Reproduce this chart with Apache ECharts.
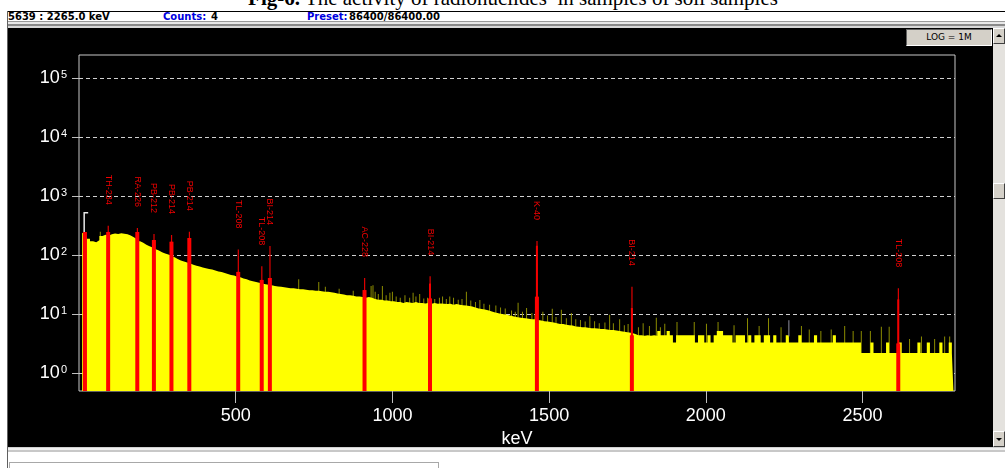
<!DOCTYPE html>
<html>
<head>
<meta charset="utf-8">
<script src="https://cdn.jsdelivr.net/npm/echarts@6/dist/echarts.min.js"></script>
<style>
  html, body { margin: 0; padding: 0; background: #fff; }
  #wrap { position: relative; width: 1005px; height: 468px; overflow: hidden; background: #fff; }
  .abs { position: absolute; }
  #title { left: 0; width: 1026px; top: -12px; text-align: center; font: 21px "Liberation Serif", serif; line-height: 21px; color: #000; white-space: nowrap; }
  #status { left: 8px; top: 11px; width: 997px; height: 10px; background: #fff; border-top: 1px solid #000; }
  .st { position: absolute; top: 0px; font: bold 10px "DejaVu Sans", sans-serif; line-height: 10px; white-space: nowrap; }
  .blue { color: #0000e0; }
  #band { left: 8px; top: 21px; width: 997px; height: 7px; background: linear-gradient(#9a9a9a 0 1px, #e8e8e8 1px 3px, #8a8a8a 3px 5px, #d8d8d8 5px 7px); }
  #panel { left: 8px; top: 28px; width: 985px; height: 419px; background: #000; }
  #scroll { left: 993px; top: 28px; width: 12px; height: 419px; background: #e4e2de; }
  .sbtn { position: absolute; left: 0; width: 10px; height: 14px; background: #d4d0c8; border-top: 1px solid #fff; border-left: 1px solid #fff; border-right: 1px solid #404040; border-bottom: 1px solid #404040; }
  #logbtn { left: 906px; top: 29px; width: 84px; height: 15px; background: #d4d0c8; border-top: 1px solid #606060; border-left: 1px solid #606060; border-right: 1px solid #fff; border-bottom: 1px solid #fff; font: 9px "DejaVu Sans", sans-serif; line-height: 15px; text-align: center; color: #000; }
  #bottomband { left: 8px; top: 447px; width: 997px; height: 5px; background: linear-gradient(#d0d0d0 0 1px, #f0f0f0 1px 3px, #c8c8c8 3px 5px); }
  #box { left: 9px; top: 462px; width: 428px; height: 20px; border: 1px solid #a8a8a8; }
  #lline { left: 7px; top: 11px; width: 1px; height: 457px; background: #606060; }
  #chart { position: absolute; left: 0; top: 0; width: 1005px; height: 468px; }
</style>
</head>
<body>
<div id="wrap">
  <div id="title" class="abs"><b>Fig-6.</b> The activity of radionuclides&nbsp; in samples of soil samples</div>
  <div id="status" class="abs">
    <span class="st" style="left:0px">5639 : 2265.0 keV</span>
    <span class="st blue" style="left:155px">Counts:</span>
    <span class="st" style="left:203px">4</span>
    <span class="st blue" style="left:299px">Preset:</span>
    <span class="st" style="left:341px">86400/86400.00</span>
  </div>
  <div id="band" class="abs"></div>
  <div id="panel" class="abs"></div>
  <div id="scroll" class="abs">
    <div class="sbtn" style="top:0"><svg width="10" height="14"><polygon points="2,8 8,8 5,5" fill="#000"/></svg></div>
    <div class="sbtn" style="top:155px"></div>
    <div class="sbtn" style="top:403px"><svg width="10" height="14"><polygon points="2,6 8,6 5,9" fill="#000"/></svg></div>
  </div>
  <div id="logbtn" class="abs">LOG = 1M</div>
  <div id="bottomband" class="abs"></div>
  <div id="box" class="abs"></div>
  <div id="lline" class="abs"></div>
  <div id="chart"></div>
</div>
<script>
// ---- Data ----
// Spectrum counts in 10 keV bins, first bin centred at 10 keV
const binStart = 10;
const binWidth = 10;
const counts = [
  240, 225, 190, 172, 165, 178, 210, 222, 215, 226,
  232, 228, 234, 230, 226, 214, 200, 186, 172, 162,
  150, 142, 134, 126, 120, 112, 107, 102, 98, 92,
  86, 81, 78, 75, 72, 69, 66, 64, 62, 60,
  58, 57, 55, 53, 52, 50, 48, 46, 45, 43,
  42, 40, 39, 37, 36, 35, 34, 33, 32, 31.5,
  31, 30, 29.5, 29, 28.5, 28, 27.5, 27.5, 27, 26.5,
  26.5, 26, 25.5, 25.5, 25, 25, 24.5, 24, 24, 23.5,
  23, 22.5, 22, 21.5, 21, 21, 20.5, 20, 20, 19.5,
  19, 19.5, 19, 18, 17.5, 17.5, 17, 17, 16.5, 16.5,
  16, 16, 15.5, 16, 15.8, 15.5, 16, 15.5, 15.5, 15.2,
  15.5, 15, 15.5, 15, 15.2, 15, 14.8, 15, 14.5, 14.8,
  14.5, 14.2, 14, 13.8, 13.5, 13, 12.5, 12.2, 12, 11.7,
  11.2, 10.8, 10.5, 10.2, 10, 9.8, 9.5, 9.2, 9, 8.8,
  8.6, 8.5, 8.4, 8.2, 8.2, 8, 7.8, 7.6, 7.5, 7.4,
  7.2, 7, 6.8, 6.8, 6.6, 6.5, 6.4, 6.2, 6.1, 6,
  6, 5.9, 5.8, 5.8, 5.7, 5.6, 5.6, 5.5, 5.4, 5.4,
  5.3, 5.2, 5.1, 5, 4.9, 4.8, 4.6, 4.4, 4.4, 4.3,
  4.4, 4.3, 4.4, 4.3, 5.2, 4.4, 4.4, 5.2, 4.4, 3.3,
  4.4, 4.4, 4.4, 4.4, 4.4, 4.4, 3.3, 4.4, 4.4, 3.3,
  4.4, 3.3, 4.4, 5.2, 5.2, 4.4, 4.4, 4.4, 3.3, 4.4,
  4.4, 4.4, 3.3, 4.4, 3.3, 4.4, 4.4, 3.3, 4.4, 4.4,
  3.3, 4.4, 3.3, 3.3, 3.3, 4.4, 3.3, 3.3, 3.3, 4.4,
  3.3, 3.3, 3.3, 3.3, 4.4, 3.3, 3.3, 3.3, 3.3, 3.3,
  4.4, 3.3, 3.3, 3.3, 3.3, 3.3, 3.3, 3.3, 3.3, 2.2,
  2.2, 2.2, 3.3, 2.2, 2.2, 2.2, 2.2, 3.3, 2.2, 2.2,
  2.2, 3.3, 2.2, 2.2, 2.2, 2.2, 2.2, 3.3, 2.2, 2.2,
  3.3, 2.2, 2.2, 2.2, 3.3, 2.2, 2.2, 3.3, 2.2
];

// Single-channel noise spikes: [keV, counts]
const spikes = [
  [68, 250], [701, 39], [765, 35], [786, 29], [830, 27], [875, 25], [932, 30], [938, 31],
  [945, 24], [955, 22], [968, 30], [980, 21], [992, 23], [1000, 24], [1012, 20], [1025, 19],
  [1040, 21], [1055, 19], [1066, 23], [1075, 20], [1087, 22], [1100, 18.5], [1112, 19],
  [1135, 18], [1150, 19], [1160, 20], [1172, 18], [1183, 20], [1195, 19], [1210, 17.5],
  [1222, 18], [1236, 24], [1250, 17], [1265, 16], [1279, 17.4], [1292, 15], [1310, 14.5],
  [1330, 14], [1345, 13], [1360, 12.5], [1380, 11.5], [1392, 11], [1401, 15.6], [1415, 11],
  [1428, 12.7], [1445, 10.5], [1455, 9.8], [1480, 11], [1495, 9.5], [1510, 12.3], [1522, 9],
  [1539, 11.9], [1555, 8.5], [1571, 10.5], [1585, 8.2], [1600, 8], [1615, 7.5], [1630, 9.2],
  [1645, 7.6], [1660, 7], [1678, 7.2], [1693, 9.8], [1705, 7], [1725, 8.2], [1740, 6.5],
  [1752, 6.8], [1785, 6], [1800, 7], [1820, 6.3], [1842, 8.7], [1855, 6], [1869, 6.9],
  [1908, 7.4], [1963, 7.4], [2002, 6.9], [2039, 7.4], [2090, 6.5], [2133, 8.5], [2170, 6.3],
  [2200, 8.5], [2240, 6], [2305, 6.3], [2330, 5.5], [2367, 5.2], [2400, 5.5], [2443, 6.3],
  [2470, 5.2], [2496, 5.2], [2525, 5.2], [2560, 6.1], [2585, 6.1], [2650, 3.8], [2688, 4.2],
  [2730, 3.8], [2762, 4.2], [2778, 4.2]
];

// Identified peaks
const peakNames = ['', 'TH-234', 'RA-226', 'PB-212', 'PB-214', 'PB-214', 'TL-208', 'TL-208', 'BI-214', 'AC-228', 'BI-214', 'K-40', 'BI-214', 'TL-208'];
const peakKeV   = [19, 93, 186, 239, 295, 352, 508, 583, 609, 911, 1120, 1461, 1764, 2614];
const peakTop   = [246, 315, 288, 228, 219, 249, 125, 65, 143, 41, 44, 173, 29, 27.4];
const peakMid   = [246, 247, 246, 180, 169, 195, 52, 38, 41, 25.6, 33, 144, 12.7, 17.8];
const peakThick = [246, 247, 246, 180, 169, 195, 52, 38, 41, 25.6, 18.5, 19.8, 4.4, 3.2];

// Markers: region bracket and cursor  [keV, topCounts, bottomCounts, kind]
const markers = [[16.5, 520, 247, 0], [2265, 7.9, 4.2, 1]];

const xTicks = [500, 1000, 1500, 2000, 2500];
const yTicks = [1, 10, 100, 1000, 10000, 100000];

// ---- Chart ----
const chart = echarts.init(document.getElementById('chart'), null, { renderer: 'canvas' });
const FONT = '"Liberation Sans", Arial, sans-serif';

const option = {
  backgroundColor: 'transparent',
  animation: false,
  grid: { left: 79, top: 55, width: 876, height: 336, show: true, backgroundColor: '#000', borderColor: '#c8c8c8', borderWidth: 1 },
  xAxis: {
    type: 'value', min: 0, max: 2795,
    axisLine: { show: false },
    axisTick: { show: true, length: 12, lineStyle: { color: '#c0c0c0' }, customValues: xTicks },
    axisLabel: { color: '#fff', fontSize: 18, fontFamily: FONT, margin: 16, customValues: xTicks, formatter: v => String(v) },
    splitLine: { show: false },
    name: 'keV', nameLocation: 'middle', nameGap: 37,
    nameTextStyle: { color: '#fff', fontSize: 18, fontFamily: FONT }
  },
  yAxis: {
    type: 'log', logBase: 10, min: 0.5, max: 245000,
    axisLine: { show: false },
    axisTick: { show: true, length: 7, lineStyle: { color: '#c0c0c0' }, customValues: yTicks },
    axisLabel: {
      customValues: yTicks, margin: 12,
      formatter: v => '{b|10}{s|' + Math.round(Math.log10(v)) + '}',
      rich: {
        b: { color: '#fff', fontSize: 18, fontFamily: FONT },
        s: { color: '#fff', fontSize: 11, fontFamily: FONT, verticalAlign: 'top', padding: [0, 0, 0, 1] }
      }
    },
    splitLine: { show: true, lineStyle: { color: '#d0d0d0', type: [4, 3], width: 1 } }
  },
  series: [
    {
      type: 'custom', z: 1, silent: true,
      data: spikes,
      renderItem: (params, api) => {
        const cs = params.coordSys;
        const p = api.coord([api.value(0), api.value(1)]);
        return { type: 'rect', shape: { x: p[0] - 0.5, y: p[1], width: 1, height: cs.y + cs.height - p[1] }, style: { fill: '#8c8c00' } };
      }
    },
    {
      type: 'line', z: 2, step: 'middle', symbol: 'none', silent: true,
      data: counts.map((c, i) => [binStart + i * binWidth, c]),
      lineStyle: { width: 0, opacity: 0 },
      areaStyle: { color: '#ffff00', opacity: 1, origin: 'start' }
    },
    {
      type: 'custom', z: 3, silent: true,
      data: peakKeV.map((e, i) => [e, peakTop[i], peakMid[i], peakThick[i], i]),
      encode: { x: 0, y: 1 },
      renderItem: (params, api) => {
        const cs = params.coordSys;
        const bottom = cs.y + cs.height;
        const e = api.value(0);
        const x = api.coord([e, 1])[0];
        const yTop = api.coord([e, api.value(1)])[1];
        const yMid = api.coord([e, api.value(2)])[1];
        const yThick = api.coord([e, api.value(3)])[1];
        const i = api.value(4);
        const children = [
          { type: 'rect', shape: { x: x - 0.5, y: yTop, width: 1.2, height: bottom - yTop }, style: { fill: '#e00000' } },
          { type: 'rect', shape: { x: x - 1, y: yMid, width: 2, height: bottom - yMid }, style: { fill: '#f40000' } },
          { type: 'rect', shape: { x: x - 2, y: yThick, width: 4, height: bottom - yThick }, style: { fill: '#ff0000' } }
        ];
        if (peakNames[i]) {
          children.push({
            type: 'text', x: x, y: yTop - 21, rotation: -Math.PI / 2,
            style: { text: peakNames[i], fill: '#f00000', font: '9px "Liberation Sans Narrow", "Liberation Sans", Arial, sans-serif', align: 'right', verticalAlign: 'middle' }
          });
        }
        return { type: 'group', children };
      }
    },
    {
      type: 'custom', z: 4, silent: true,
      data: markers,
      renderItem: (params, api) => {
        const e = api.value(0);
        const t = api.coord([e, api.value(1)]);
        const b = api.coord([e, api.value(2)]);
        if (api.value(3) === 0) {
          return { type: 'polyline', shape: { points: [[t[0] + 4, t[1]], [t[0], t[1]], [b[0], b[1]]] }, style: { stroke: '#e8e8e8', lineWidth: 1.5, fill: null } };
        }
        return { type: 'line', shape: { x1: t[0], y1: t[1], x2: b[0], y2: b[1] }, style: { stroke: '#9090a0', lineWidth: 1 } };
      }
    }
  ]
};
chart.setOption(option);
</script>
</body>
</html>
